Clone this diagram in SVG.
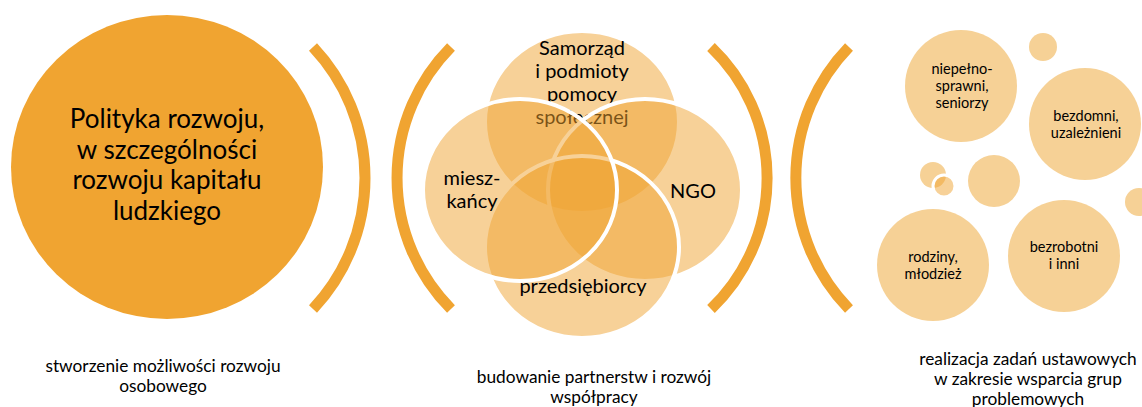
<svg xmlns="http://www.w3.org/2000/svg" width="1142" height="407" viewBox="0 0 1142 407">
<style>
text{font-family:Lato,"Liberation Sans","DejaVu Sans",sans-serif;fill:#000;text-anchor:middle}
.bracket{fill:none;stroke:#F0A431;stroke-width:11}
.venn{fill:#F0A431;fill-opacity:0.5;stroke:#fff;stroke-width:4}
.lite{fill:#F6D196}
.t1{font-size:26px}
.t2{font-size:20px}
.t3{font-size:14.5px}
.cap{font-size:17.3px}
</style>
<rect width="1142" height="407" fill="#fff"/>
<g id="policy">
<ellipse cx="167" cy="167" rx="156" ry="152" fill="#F0A431"/>
<text class="t1" x="167" y="128">Polityka rozwoju,</text>
<text class="t1" x="167" y="159">w szczególności</text>
<text class="t1" x="167" y="189">rozwoju kapitału</text>
<text class="t1" x="167" y="220">ludzkiego</text>
</g>
<g id="connectors">
<path class="bracket" d="M313 47 A191 191 0 0 1 313 309"/>
<path class="bracket" d="M451 47 A186 186 0 0 0 451 309"/>
<path class="bracket" d="M711 47 A181 181 0 0 1 711 309"/>
<path class="bracket" d="M849 47 A188 188 0 0 0 849 309"/>
</g>
<g id="venn">
<g id="samorzad">
<ellipse class="venn" cx="582" cy="122" rx="97" ry="91"/>
<text class="t2" x="582" y="55">Samorząd</text>
<text class="t2" x="582" y="78">i podmioty</text>
<text class="t2" x="582" y="101">pomocy</text>
<text class="t2" x="582" y="124">społecznej</text>
</g>
<g id="ngo">
<ellipse class="venn" cx="645" cy="190" rx="97" ry="91"/>
<text class="t2" x="693" y="198">NGO</text>
</g>
<g id="przedsiebiorcy">
<ellipse class="venn" cx="582" cy="247" rx="97" ry="91"/>
<text class="t2" x="583" y="293">przedsiębiorcy</text>
</g>
<g id="mieszkancy">
<ellipse class="venn" cx="520" cy="190" rx="97" ry="91"/>
<text class="t2" x="472" y="185">miesz-</text>
<text class="t2" x="472" y="208">kańcy</text>
</g>
</g>
<g id="groups">
<g id="niepelnosprawni">
<circle class="lite" cx="961" cy="86" r="56"/>
<text class="t3" x="962" y="74">niepełno-</text>
<text class="t3" x="962" y="91">sprawni,</text>
<text class="t3" x="962" y="108">seniorzy</text>
</g>
<g id="bezdomni">
<circle class="lite" cx="1085" cy="124" r="56"/>
<text class="t3" x="1086" y="121">bezdomni,</text>
<text class="t3" x="1086" y="138">uzależnieni</text>
</g>
<g id="rodziny">
<circle class="lite" cx="933" cy="265" r="56"/>
<text class="t3" x="933" y="262">rodziny,</text>
<text class="t3" x="933" y="279">młodzież</text>
</g>
<g id="bezrobotni">
<circle class="lite" cx="1064" cy="256" r="56"/>
<text class="t3" x="1064" y="252">bezrobotni</text>
<text class="t3" x="1064" y="269">i inni</text>
</g>
<g id="bubbles">
<circle class="lite" cx="1043" cy="47" r="14"/>
<circle class="lite" cx="994" cy="181" r="26"/>
<circle class="lite" cx="1139" cy="202" r="14"/>
<circle class="lite" cx="933" cy="175" r="13"/>
<circle cx="944" cy="186" r="11" fill="#F0A431" fill-opacity="0.5" stroke="#fff" stroke-width="3"/>
</g>
</g>
<g id="captions">
<text class="cap" x="163" y="372">stworzenie możliwości rozwoju</text>
<text class="cap" x="163" y="392">osobowego</text>
<text class="cap" x="594" y="383">budowanie partnerstw i rozwój</text>
<text class="cap" x="594" y="403">współpracy</text>
<text class="cap" x="1028" y="365">realizacja zadań ustawowych</text>
<text class="cap" x="1028" y="385">w zakresie wsparcia grup</text>
<text class="cap" x="1028" y="405">problemowych</text>
</g>
</svg>
